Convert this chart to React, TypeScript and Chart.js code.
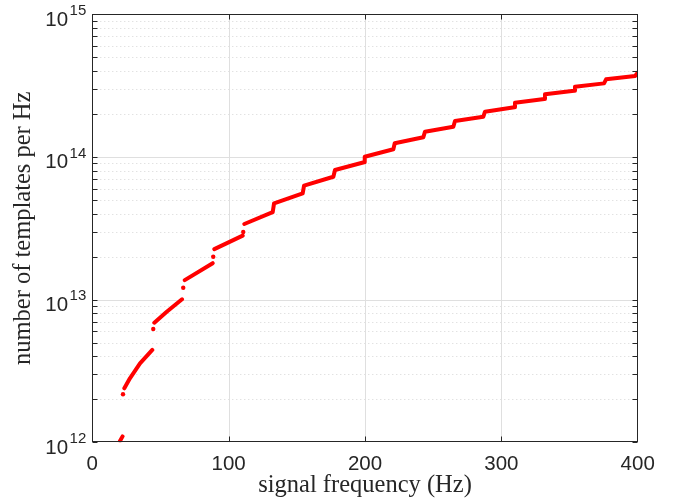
import React, { useEffect, useRef } from "react";
import { Chart, registerables } from "chart.js";

Chart.register(...registerables);

// Main series: signal frequency (Hz) vs number of templates per Hz (null = gap between bands)
const freqHz = [
  20.3, 22.2, 22.4,
  23.5, 27.6, 35, 44.0, 44.3,
  45.5, 54.6, 65.8, 66.2,
  67.8, 88.3, 88.6,
  89.5, 110.3, 110.6,
  111.5, 132.3,
  133.3, 154.3,
  155.3, 176.8,
  178, 199.3,
  199.8, 220.8,
  221.8, 242.8,
  244.0, 264.8,
  266, 286.8,
  288, 309.5,
  310, 331.5,
  332, 353.3,
  354, 375.3,
  376.8, 398.1, 400,
];
const templatesPerHz = [
  1.02e12, 1.10e12, null,
  2.39e12, 2.81e12, 3.58e12, 4.44e12, null,
  6.89e12, 8.22e12, 1.005e13, null,
  1.37e13, 1.80e13, null,
  2.26e13, 2.81e13, null,
  3.39e13, 4.10e13,
  4.73e13, 5.56e13,
  6.30e13, 7.27e13,
  8.10e13, 9.18e13,
  1.004e14, 1.132e14,
  1.247e14, 1.374e14,
  1.504e14, 1.630e14,
  1.786e14, 1.915e14,
  2.075e14, 2.228e14,
  2.40e14, 2.547e14,
  2.748e14, 2.912e14,
  3.105e14, 3.28e14,
  3.50e14, 3.69e14, 3.90e14,
];

// Isolated points at the start of the first bands
const isolatedFreqHz = [22.5, 44.7, 66.7, 88.7, 110.7];
const isolatedTemplates = [2.17e12, 6.22e12, 1.21e13, 2.0e13, 2.98e13];

// Axes
const xMin = 0;
const xMax = 400;
const xTickValues = [0, 100, 200, 300, 400];
const xTickLabels = ["0", "100", "200", "300", "400"];
const yMin = 1e12;
const yMax = 1e15;
const yDecades = [1e12, 1e13, 1e14, 1e15];
const yTickExponents = ["12", "13", "14", "15"];
const yMinorMultipliers = [2, 3, 4, 5, 6, 7, 8, 9];
const xTitle = "signal frequency (Hz)";
const yTitle = "number of templates per Hz";

const AXIS_COLOR = "#262626";
const SANS = '"Liberation Sans", Arial, Helvetica, sans-serif';
const SERIF = '"Liberation Serif", "Times New Roman", serif';

const matlabAxes = {
  id: "matlabAxes",
  beforeDatasetsDraw(chart: any) {
    const { ctx, chartArea } = chart;
    const { left, right, top, bottom } = chartArea;
    const xs = chart.scales.x;
    const ys = chart.scales.y;
    ctx.save();
    // minor dotted grid
    ctx.strokeStyle = "#d6d6d6";
    ctx.lineWidth = 1;
    ctx.setLineDash([1, 3]);
    for (let i = 0; i < yDecades.length - 1; i++) {
      for (const m of yMinorMultipliers) {
        const py = Math.round(ys.getPixelForValue(yDecades[i] * m)) + 0.5;
        ctx.beginPath();
        ctx.moveTo(left, py);
        ctx.lineTo(right, py);
        ctx.stroke();
      }
    }
    // major solid grid
    ctx.setLineDash([]);
    ctx.strokeStyle = "#dfdfdf";
    for (const v of xTickValues) {
      if (v === xMin || v === xMax) continue;
      const px = Math.round(xs.getPixelForValue(v)) + 0.5;
      ctx.beginPath();
      ctx.moveTo(px, top);
      ctx.lineTo(px, bottom);
      ctx.stroke();
    }
    for (const v of yDecades) {
      if (v === yMin || v === yMax) continue;
      const py = Math.round(ys.getPixelForValue(v)) + 0.5;
      ctx.beginPath();
      ctx.moveTo(left, py);
      ctx.lineTo(right, py);
      ctx.stroke();
    }
    ctx.restore();
  },
  afterDatasetsDraw(chart: any) {
    const { ctx, chartArea } = chart;
    const { left, right, top, bottom } = chartArea;
    const xs = chart.scales.x;
    const ys = chart.scales.y;
    ctx.save();
    ctx.strokeStyle = AXIS_COLOR;
    ctx.lineWidth = 1;
    ctx.setLineDash([]);
    const L = Math.round(left) + 0.5;
    const R = Math.round(right) - 0.5;
    const T = Math.round(top) + 0.5;
    const B = Math.round(bottom) - 0.5;
    ctx.strokeRect(L, T, R - L, B - T);
    const tl = 5;
    // x ticks inside, bottom and top
    for (const v of xTickValues) {
      if (v === xMin || v === xMax) continue;
      const px = Math.round(xs.getPixelForValue(v)) + 0.5;
      ctx.beginPath();
      ctx.moveTo(px, B);
      ctx.lineTo(px, B - tl);
      ctx.moveTo(px, T);
      ctx.lineTo(px, T + tl);
      ctx.stroke();
    }
    // y ticks (major + minor) inside, left and right
    const yTickVals: number[] = [];
    for (let i = 0; i < yDecades.length; i++) {
      yTickVals.push(yDecades[i]);
      if (i < yDecades.length - 1) for (const m of yMinorMultipliers) yTickVals.push(yDecades[i] * m);
    }
    for (const v of yTickVals) {
      const py = Math.round(ys.getPixelForValue(v)) + 0.5;
      ctx.beginPath();
      ctx.moveTo(L, py);
      ctx.lineTo(L + tl, py);
      ctx.moveTo(R, py);
      ctx.lineTo(R - tl, py);
      ctx.stroke();
    }
    // x tick labels
    ctx.fillStyle = AXIS_COLOR;
    ctx.font = `20.5px ${SANS}`;
    ctx.textAlign = "center";
    ctx.textBaseline = "alphabetic";
    xTickValues.forEach((v, i) => {
      const px = xs.getPixelForValue(v);
      ctx.fillText(xTickLabels[i], px, bottom + 27.7);
    });
    // y tick labels 10^n
    yDecades.forEach((v, i) => {
      const py = ys.getPixelForValue(v);
      ctx.font = `15px ${SANS}`;
      ctx.textAlign = "right";
      const supRight = left - 6;
      const supW = ctx.measureText(yTickExponents[i]).width;
      ctx.fillText(yTickExponents[i], supRight, py + 0.8);
      ctx.font = `20.5px ${SANS}`;
      ctx.fillText("10", supRight - supW - 1.5, py + 11.5);
    });
    // axis titles
    ctx.font = `24.5px ${SERIF}`;
    ctx.textAlign = "center";
    ctx.fillText(xTitle, (left + right) / 2, 492);
    ctx.save();
    ctx.translate(30, (top + bottom) / 2);
    ctx.rotate(-Math.PI / 2);
    ctx.fillText(yTitle, 0, 0);
    ctx.restore();
    ctx.restore();
  },
};

export default function App() {
  const canvasRef = useRef<HTMLCanvasElement | null>(null);
  useEffect(() => {
    if (!canvasRef.current) return;
    const lineData = freqHz.map((f, i) => ({ x: f, y: templatesPerHz[i] }));
    const isoData = isolatedFreqHz.map((f, i) => ({ x: f, y: isolatedTemplates[i] }));
    const chart = new Chart(canvasRef.current, {
      type: "line",
      data: {
        datasets: [
          {
            data: lineData as any,
            borderColor: "#ff0000",
            backgroundColor: "#ff0000",
            borderWidth: 4,
            pointRadius: 0,
            borderCapStyle: "round",
            borderJoinStyle: "round",
            spanGaps: false,
            tension: 0,
            fill: false,
          },
          {
            type: "scatter",
            data: isoData as any,
            pointRadius: 2.2,
            pointBackgroundColor: "#ff0000",
            pointBorderWidth: 0,
            showLine: false,
          } as any,
        ],
      },
      options: {
        animation: false,
        responsive: false,
        devicePixelRatio: 1,
        layout: { padding: { left: 0, right: 46.3, top: 14.3, bottom: 0 } },
        plugins: { legend: { display: false }, tooltip: { enabled: false } },
        events: [],
        scales: {
          x: {
            type: "linear",
            min: xMin,
            max: xMax,
            grid: { display: false },
            border: { display: false },
            ticks: { display: false },
            afterFit: (s: any) => {
              s.height = 61.7;
            },
          },
          y: {
            type: "logarithmic",
            min: yMin,
            max: yMax,
            grid: { display: false },
            border: { display: false },
            ticks: { display: false },
            afterFit: (s: any) => {
              s.width = 92.3;
            },
          },
        },
      },
      plugins: [matlabAxes],
    });
    return () => chart.destroy();
  }, []);
  return (
    <div style={{ position: "fixed", left: 0, top: 0, width: 684, height: 504, background: "#ffffff" }}>
      <canvas ref={canvasRef} width={684} height={504} />
    </div>
  );
}
